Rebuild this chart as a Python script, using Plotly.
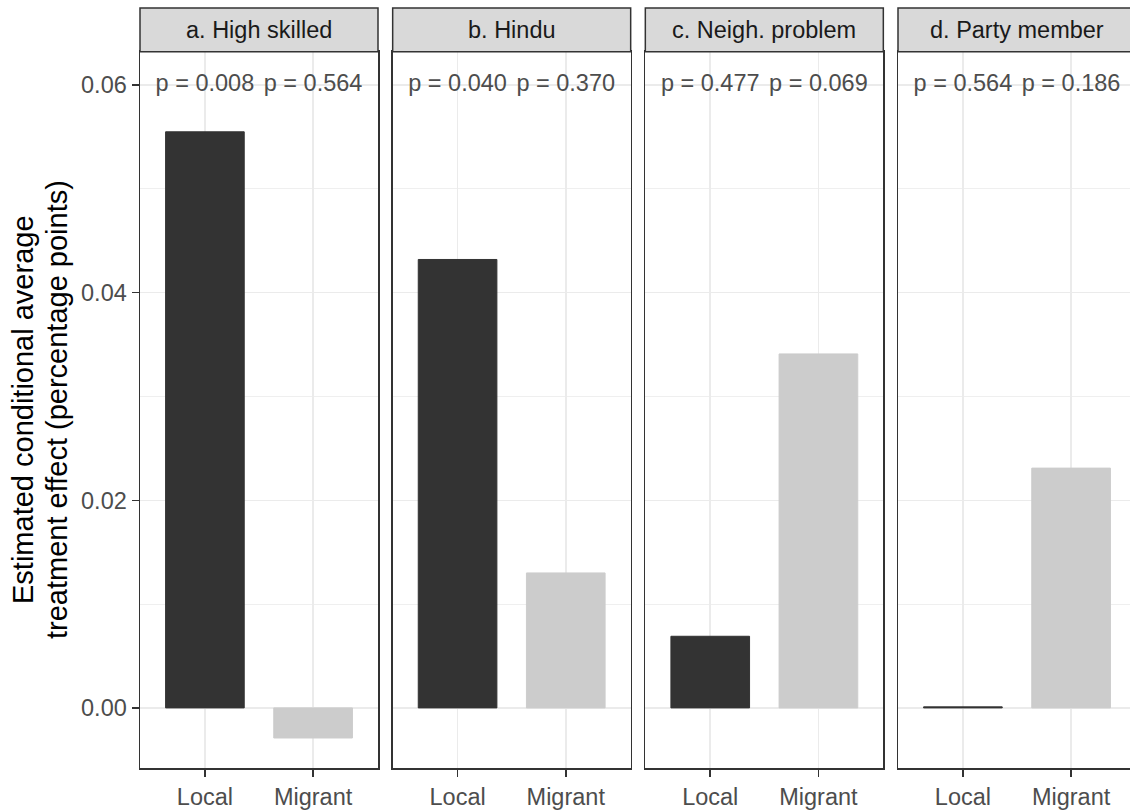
import plotly.graph_objects as go

# ---- data ----
panels = ["a. High skilled", "b. Hindu", "c. Neigh. problem", "d. Party member"]
groups = ["Local", "Migrant"]
local_effect = [0.0555, 0.0432, 0.0069, 0.0001]
migrant_effect = [-0.0029, 0.0130, 0.0341, 0.0231]
p_local = ["0.008", "0.040", "0.477", "0.564"]
p_migrant = ["0.564", "0.370", "0.069", "0.186"]
p_label_y = 0.06
y_ticks = [0.00, 0.02, 0.04, 0.06]

# ---- style ----
W, H = 1130, 810
FONT = "Liberation Sans, Arial, Helvetica, sans-serif"
bar_colors = ["#333333", "#CCCCCC"]
panel_left_px = [140, 392.67, 645.33, 898]
panel_w_px = 238
panel_top_px, panel_bot_px = 52, 770
strip_top_px = 8
y_range = [-0.0058, 0.0632]
cat_range = [-0.6, 1.6]
px_per_cat = panel_w_px / (cat_range[1] - cat_range[0])

fig = go.Figure()
ydom = [(H - panel_bot_px) / H, (H - panel_top_px) / H]

for i, name in enumerate(panels):
    k = "" if i == 0 else str(i + 1)
    xa, ya = "x" + k, "y" + k
    vals = [local_effect[i], migrant_effect[i]]
    fig.add_trace(go.Bar(
        x=groups, y=vals, width=0.727,
        marker=dict(color=bar_colors, line=dict(color=bar_colors, width=1)),
        xaxis=xa, yaxis=ya, hoverinfo="skip",
    ))
    fig.add_trace(go.Scatter(
        x=groups, y=[p_label_y, p_label_y],
        text=["p = " + p_local[i], "p = " + p_migrant[i]],
        mode="text", textposition="middle center",
        textfont=dict(family=FONT, size=23.5, color="#4D4D4D"),
        xaxis=xa, yaxis=ya, hoverinfo="skip", cliponaxis=False,
    ))

    left = panel_left_px[i]
    right = left + panel_w_px
    rng = list(cat_range)
    if right > W:
        rng[1] = cat_range[1] - (right - W) / px_per_cat
        right = W
    xdom = [left / W, right / W]

    fig.layout["xaxis" + k] = dict(
        domain=xdom, anchor=ya, type="category", range=rng,
        categoryorder="array", categoryarray=groups,
        showgrid=True, gridcolor="#EBEBEB", gridwidth=1.5,
        showline=True, linecolor="#333333", linewidth=1.5, mirror=True,
        ticks="outside", ticklen=7, tickwidth=1.5, tickcolor="#333333",
        tickfont=dict(family=FONT, size=23.5, color="#4D4D4D"),
        zeroline=False, fixedrange=True,
    )
    yax = dict(
        domain=ydom, anchor=xa, range=y_range,
        tickvals=y_ticks, tickformat=".2f",
        showgrid=True, gridcolor="#EBEBEB", gridwidth=1.5,
        minor=dict(dtick=0.01, tick0=0, showgrid=True, gridcolor="#EBEBEB", gridwidth=0.8),
        showline=True, linecolor="#333333", linewidth=1.5,
        mirror=(i < 3),
        zeroline=False, fixedrange=True,
    )
    if i == 0:
        yax.update(ticks="outside", ticklen=7, tickwidth=1.5, tickcolor="#333333",
                   tickfont=dict(family=FONT, size=23.5, color="#4D4D4D"),
                   showticklabels=True)
    else:
        yax.update(matches="y", ticks="", showticklabels=False)
    fig.layout["yaxis" + k] = yax

    # strip
    x1 = (left + panel_w_px) / W
    fig.add_shape(type="rect", xref="paper", yref="paper",
                  x0=left / W, x1=x1,
                  y0=(H - panel_top_px) / H, y1=(H - strip_top_px) / H,
                  fillcolor="#D9D9D9", line=dict(color="#333333", width=1.5),
                  layer="above")
    fig.add_annotation(xref="paper", yref="paper",
                       x=(left + panel_w_px / 2) / W,
                       y=(H - (strip_top_px + panel_top_px) / 2) / H,
                       text=name, showarrow=False, xanchor="center", yanchor="middle",
                       font=dict(family=FONT, size=23.5, color="#1A1A1A"))

# y-axis title (two lines)
ytitle = ["Estimated conditional average", "treatment effect (percentage points)"]
for j, (line, xc) in enumerate(zip(ytitle, [23, 57])):
    fig.add_annotation(xref="paper", yref="paper", x=xc / W,
                       y=(H - (panel_top_px + panel_bot_px) / 2) / H,
                       text=line, textangle=-90, showarrow=False,
                       xanchor="center", yanchor="middle",
                       font=dict(family=FONT, size=29, color="#000000"))

fig.update_layout(
    width=W, height=H, margin=dict(l=0, r=0, t=0, b=0, pad=0),
    plot_bgcolor="white", paper_bgcolor="white", showlegend=False,
    barmode="overlay",
)

fig.write_html("out.html",
               config={"displayModeBar": False, "staticPlot": True},
               post_script="document.body.style.margin='0';document.body.style.overflow='hidden';")
